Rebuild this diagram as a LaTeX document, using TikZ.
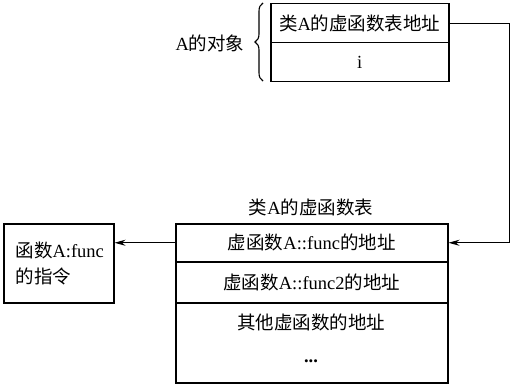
\documentclass[tikz,border=0pt]{standalone}
\usepackage{fontspec}
\setmainfont{Liberation Serif}
\newfontfamily\cjk{Noto Sans CJK SC}
\newcommand{\zh}[1]{{\cjk #1}}
\usetikzlibrary{arrows.meta,decorations.pathreplacing}
\begin{document}
\begin{tikzpicture}[x=1pt,y=-1pt,
  every node/.style={font=\fontsize{18.5}{22}\selectfont},
  cell/.style={draw,line width=1.5pt,rectangle,anchor=north west,inner sep=0pt},
  conn/.style={line width=1.1pt,-{Stealth[length=11pt,width=6pt]}}]
\useasboundingbox (0,0) rectangle (513,385);
% object of A
\node[cell,minimum width=178pt,minimum height=39pt] (r1) at (270,3) {\zh{类}A\zh{的虚函数表地址}};
\node[cell,minimum width=178pt,minimum height=39pt] (r2) at (270,42) {i};
\draw[line width=1.1pt,decorate,decoration={brace,amplitude=8pt}] (263,81) -- (263,3);
\node (objlbl) at (210,43) {A\zh{的对象}};
% vtable
\node (ttl) at (311,207) {\zh{类}A\zh{的虚函数表}};
\node[cell,minimum width=272pt,minimum height=38pt] (t1) at (175,223) {\zh{虚函数}A::func\zh{的地址}};
\node[cell,minimum width=272pt,minimum height=41pt] (t2) at (175,261) {\zh{虚函数}A::func2\zh{的地址}};
\node[cell,minimum width=272pt,minimum height=80pt] (t3) at (175,302) {};
\node (t3a) at (311,322) {\zh{其他虚函数的地址}};
\node (t3b) at (311,361) {\textbf{...}};
% function box
\node[cell,minimum width=110pt,minimum height=79pt] (fb) at (3,223) {};
\node[anchor=west,align=left,font=\fontsize{18.5}{26}\selectfont] (fbt) at (12,264) {\zh{函数}A:func\\\zh{的指令}};
% connectors
\draw[conn] (r1.east) -- ++(60,0) |- (t1.east);
\draw[conn] (t1.west) -- (fb.east |- t1.west);
\end{tikzpicture}
\end{document}
